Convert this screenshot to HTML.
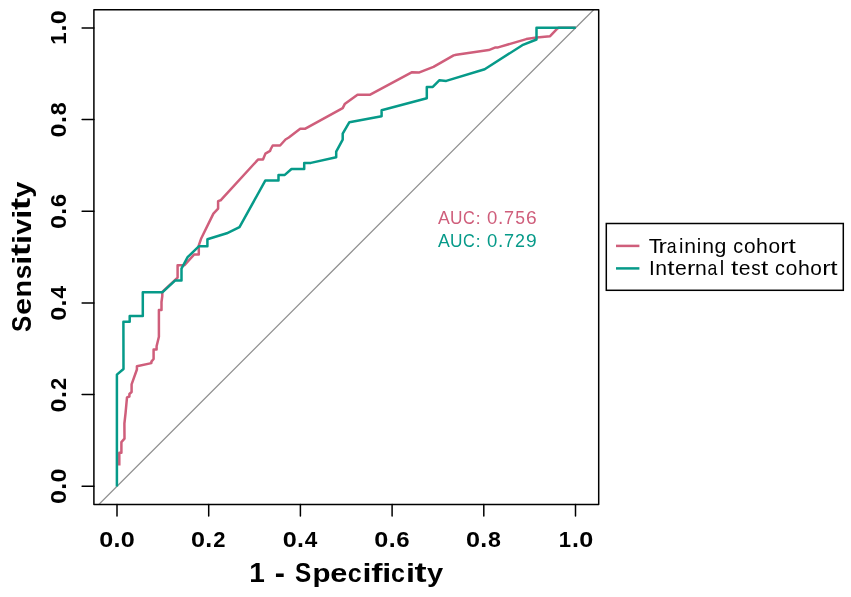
<!DOCTYPE html>
<html><head><meta charset="utf-8"><style>
html,body{margin:0;padding:0;background:#fff;overflow:hidden}
svg{display:block;will-change:transform}
text{font-family:"Liberation Sans",sans-serif}
</style></head><body>
<svg width="851" height="597" viewBox="0 0 851 597">
<rect x="0" y="0" width="851" height="597" fill="#fff"/>
<defs><clipPath id="c"><rect x="93.9" y="9.7" width="504.80" height="494.70"/></clipPath></defs>
<line x1="25.30" y1="577.97" x2="667.20" y2="-63.72" stroke="#909090" stroke-width="1.3" clip-path="url(#c)"/>
<polyline points="119.3,465.5 119.3,452.8 121.4,452.8 121.4,442.1 124.5,438.7 124.4,423.5 125.6,412.6 127.0,397.4 129.4,396.5 129.4,394.0 131.6,392.0 131.6,384.3 136.9,369.5 136.9,366.2 151.4,363.1 151.4,361.6 153.6,359.0 153.6,349.6 156.6,349.6 156.6,346.2 158.9,336.8 158.9,310.1 161.5,310.1 161.5,302.0 162.3,296.0 162.3,292.0 177.6,277.6 177.6,265.2 184.5,265.2 194.0,254.6 198.8,254.6 198.8,245.3 201.3,238.2 213.4,213.6 218.1,208.6 218.1,201.1 220.6,200.3 258.0,159.6 263.0,159.5 265.4,153.6 270.1,150.9 270.8,149.0 272.7,145.5 280.1,145.5 285.5,139.5 288.8,137.5 300.2,128.8 304.9,128.8 342.7,108.1 344.7,104.1 357.5,94.7 370.2,94.7 412.1,72.2 419.4,72.4 433.5,66.8 453.6,55.4 456.3,54.7 488.8,50.1 495.5,47.4 498.1,47.4 526.3,39.1 536.7,37.6 550.1,36.2 556.8,29.1 558.5,27.7 575.8,27.7" fill="none" stroke="#CF5E7B" stroke-width="2.5" stroke-linejoin="round" stroke-linecap="butt"/>
<polyline points="116.9,486.6 116.9,374.6 123.5,369.0 123.4,321.8 129.7,321.8 129.7,315.9 142.8,315.9 142.8,292.2 162.6,292.2 175.0,280.6 181.5,280.6 181.5,268.6 187.6,257.2 198.8,246.3 207.4,246.3 207.4,239.2 226.8,233.3 239.5,227.2 265.4,180.4 278.5,180.4 278.5,174.9 284.8,174.9 291.5,169.0 304.2,169.0 304.2,162.9 310.9,162.9 336.2,157.3 336.2,151.6 342.7,139.6 342.7,133.6 349.4,122.2 381.6,116.2 381.6,110.2 426.8,98.3 426.8,86.9 432.8,86.9 439.5,80.2 446.2,80.9 484.7,69.3 522.3,45.2 536.5,39.5 536.5,27.7 575.8,27.7" fill="none" stroke="#069A89" stroke-width="2.5" stroke-linejoin="round" stroke-linecap="butt"/>
<rect x="93.9" y="9.7" width="504.80" height="494.70" fill="none" stroke="#000" stroke-width="1.5" stroke-linejoin="round"/>
<line x1="117.0" y1="504.4" x2="117.0" y2="516.1" stroke="#000" stroke-width="1.5" stroke-linecap="round"/>
<line x1="82.1" y1="486.3" x2="93.9" y2="486.3" stroke="#000" stroke-width="1.5" stroke-linecap="round"/>
<line x1="208.7" y1="504.4" x2="208.7" y2="516.1" stroke="#000" stroke-width="1.5" stroke-linecap="round"/>
<line x1="82.1" y1="394.6" x2="93.9" y2="394.6" stroke="#000" stroke-width="1.5" stroke-linecap="round"/>
<line x1="300.4" y1="504.4" x2="300.4" y2="516.1" stroke="#000" stroke-width="1.5" stroke-linecap="round"/>
<line x1="82.1" y1="303.0" x2="93.9" y2="303.0" stroke="#000" stroke-width="1.5" stroke-linecap="round"/>
<line x1="392.1" y1="504.4" x2="392.1" y2="516.1" stroke="#000" stroke-width="1.5" stroke-linecap="round"/>
<line x1="82.1" y1="211.3" x2="93.9" y2="211.3" stroke="#000" stroke-width="1.5" stroke-linecap="round"/>
<line x1="483.8" y1="504.4" x2="483.8" y2="516.1" stroke="#000" stroke-width="1.5" stroke-linecap="round"/>
<line x1="82.1" y1="119.6" x2="93.9" y2="119.6" stroke="#000" stroke-width="1.5" stroke-linecap="round"/>
<line x1="575.5" y1="504.4" x2="575.5" y2="516.1" stroke="#000" stroke-width="1.5" stroke-linecap="round"/>
<line x1="82.1" y1="27.9" x2="93.9" y2="27.9" stroke="#000" stroke-width="1.5" stroke-linecap="round"/>
<g font-size="21.19" font-weight="bold">
<text transform="translate(99.24,547.07) scale(1.1908,1.0082)">0</text>
<text transform="translate(113.55,547.00) scale(1.1756,1.1975)">.</text>
<text transform="translate(120.76,547.07) scale(1.1908,1.0082)">0</text>
</g>
<g transform="translate(65.85,0) rotate(-90)" font-size="21.19" font-weight="bold">
<text transform="translate(-504.06,0.07) scale(1.1908,1.0082)">0</text>
<text transform="translate(-489.75,0.00) scale(1.1756,1.1975)">.</text>
<text transform="translate(-482.54,0.07) scale(1.1908,1.0082)">0</text>
</g>
<g font-size="21.19" font-weight="bold">
<text transform="translate(190.94,547.07) scale(1.1908,1.0082)">0</text>
<text transform="translate(205.25,547.00) scale(1.1756,1.1975)">.</text>
<text transform="translate(213.32,547.00) scale(1.0385,1.0032)">2</text>
</g>
<g transform="translate(65.85,0) rotate(-90)" font-size="21.19" font-weight="bold">
<text transform="translate(-412.39,0.07) scale(1.1908,1.0082)">0</text>
<text transform="translate(-398.08,0.00) scale(1.1756,1.1975)">.</text>
<text transform="translate(-390.01,0.00) scale(1.0385,1.0032)">2</text>
</g>
<g font-size="21.19" font-weight="bold">
<text transform="translate(282.64,547.07) scale(1.1908,1.0082)">0</text>
<text transform="translate(296.95,547.00) scale(1.1756,1.1975)">.</text>
<text transform="translate(304.76,547.00) scale(1.0659,1.0000)">4</text>
</g>
<g transform="translate(65.85,0) rotate(-90)" font-size="21.19" font-weight="bold">
<text transform="translate(-320.72,0.07) scale(1.1908,1.0082)">0</text>
<text transform="translate(-306.41,0.00) scale(1.1756,1.1975)">.</text>
<text transform="translate(-298.60,0.00) scale(1.0659,1.0000)">4</text>
</g>
<g font-size="21.19" font-weight="bold">
<text transform="translate(374.34,547.07) scale(1.1908,1.0082)">0</text>
<text transform="translate(388.65,547.00) scale(1.1756,1.1975)">.</text>
<text transform="translate(396.26,547.07) scale(1.1325,1.0069)">6</text>
</g>
<g transform="translate(65.85,0) rotate(-90)" font-size="21.19" font-weight="bold">
<text transform="translate(-229.05,0.07) scale(1.1908,1.0082)">0</text>
<text transform="translate(-214.74,0.00) scale(1.1756,1.1975)">.</text>
<text transform="translate(-207.13,0.07) scale(1.1325,1.0069)">6</text>
</g>
<g font-size="21.19" font-weight="bold">
<text transform="translate(466.04,547.07) scale(1.1908,1.0082)">0</text>
<text transform="translate(480.35,547.00) scale(1.1756,1.1975)">.</text>
<text transform="translate(488.08,547.07) scale(1.0950,1.0082)">8</text>
</g>
<g transform="translate(65.85,0) rotate(-90)" font-size="21.19" font-weight="bold">
<text transform="translate(-137.38,0.07) scale(1.1908,1.0082)">0</text>
<text transform="translate(-123.07,0.00) scale(1.1756,1.1975)">.</text>
<text transform="translate(-115.34,0.07) scale(1.0950,1.0082)">8</text>
</g>
<g font-size="21.19" font-weight="bold">
<text transform="translate(558.65,547.00) scale(1.0428,1.0000)">1</text>
<text transform="translate(572.05,547.00) scale(1.1756,1.1975)">.</text>
<text transform="translate(579.26,547.07) scale(1.1908,1.0082)">0</text>
</g>
<g transform="translate(65.85,0) rotate(-90)" font-size="21.19" font-weight="bold">
<text transform="translate(-44.80,0.00) scale(1.0428,1.0000)">1</text>
<text transform="translate(-31.40,0.00) scale(1.1756,1.1975)">.</text>
<text transform="translate(-24.19,0.07) scale(1.1908,1.0082)">0</text>
</g>
<g font-size="26.86" font-weight="bold">
<text transform="translate(249.24,582.30) scale(1.0428,1.0000)">1</text>
<text transform="translate(274.78,582.84) scale(1.1398,1.1255)">-</text>
<text transform="translate(295.07,582.39) scale(0.9061,1.0082)">S</text>
<text transform="translate(312.39,582.16) scale(1.0992,0.9703)">p</text>
<text transform="translate(330.24,582.40) scale(1.1470,0.9892)">e</text>
<text transform="translate(347.66,582.40) scale(0.9343,0.9892)">c</text>
<text transform="translate(362.45,582.30) scale(1.2024,0.9895)">i</text>
<text transform="translate(371.17,582.30) scale(1.2612,0.9895)">f</text>
<text transform="translate(382.17,582.30) scale(1.2024,0.9895)">i</text>
<text transform="translate(391.09,582.40) scale(0.9343,0.9892)">c</text>
<text transform="translate(405.88,582.30) scale(1.2024,0.9895)">i</text>
<text transform="translate(414.59,582.06) scale(1.3514,1.0023)">t</text>
<text transform="translate(426.90,582.32) scale(1.0804,0.9782)">y</text>
</g>
<g transform="translate(30.60,0) rotate(-90)" font-size="26.86" font-weight="bold">
<text transform="translate(-332.10,0.09) scale(0.9061,1.0082)">S</text>
<text transform="translate(-315.08,0.10) scale(1.1470,0.9892)">e</text>
<text transform="translate(-297.54,0.00) scale(1.0745,0.9814)">n</text>
<text transform="translate(-279.33,0.10) scale(0.9754,0.9883)">s</text>
<text transform="translate(-264.76,0.00) scale(1.2024,0.9895)">i</text>
<text transform="translate(-256.05,-0.24) scale(1.3514,1.0023)">t</text>
<text transform="translate(-243.95,0.00) scale(1.2024,0.9895)">i</text>
<text transform="translate(-234.87,0.00) scale(1.0716,0.9769)">v</text>
<text transform="translate(-218.74,0.00) scale(1.2024,0.9895)">i</text>
<text transform="translate(-210.03,-0.24) scale(1.3514,1.0023)">t</text>
<text transform="translate(-197.72,0.02) scale(1.0804,0.9782)">y</text>
</g>
<g font-size="18.65" fill="#CF5E7B">
<text transform="translate(437.97,223.70) scale(0.9507,1.0000)">A</text>
<text transform="translate(450.10,223.77) scale(0.9275,1.0052)">U</text>
<text transform="translate(462.94,223.77) scale(0.8761,1.0082)">C</text>
<text transform="translate(475.40,223.70) scale(1.0212,0.9237)">:</text>
<text transform="translate(487.03,223.77) scale(0.9949,1.0082)">0</text>
<text transform="translate(497.94,223.70) scale(1.0212,1.0946)">.</text>
<text transform="translate(503.90,223.70) scale(0.9732,1.0000)">7</text>
<text transform="translate(515.24,223.77) scale(0.9389,1.0052)">5</text>
<text transform="translate(526.04,223.77) scale(1.0296,1.0082)">6</text>
</g>
<g font-size="18.65" fill="#069A89">
<text transform="translate(437.97,246.60) scale(0.9507,1.0000)">A</text>
<text transform="translate(450.10,246.67) scale(0.9275,1.0052)">U</text>
<text transform="translate(462.94,246.67) scale(0.8761,1.0082)">C</text>
<text transform="translate(475.40,246.60) scale(1.0212,0.9237)">:</text>
<text transform="translate(487.03,246.67) scale(0.9949,1.0082)">0</text>
<text transform="translate(497.94,246.60) scale(1.0212,1.0946)">.</text>
<text transform="translate(503.90,246.60) scale(0.9732,1.0000)">7</text>
<text transform="translate(514.98,246.60) scale(0.9589,1.0032)">2</text>
<text transform="translate(526.00,246.67) scale(1.0276,1.0082)">9</text>
</g>
<rect x="606.3" y="223.5" width="237.00" height="66.80" fill="#fff" stroke="#000" stroke-width="1.5"/>
<line x1="616" y1="245.9" x2="639.4" y2="245.9" stroke="#CF5E7B" stroke-width="2.5"/>
<line x1="616" y1="268.4" x2="639.4" y2="268.4" stroke="#069A89" stroke-width="2.5"/>
<g font-size="20.80">
<text transform="translate(648.72,252.70) scale(1.0293,1.0000)">T</text>
<text transform="translate(658.48,252.70) scale(1.2092,0.9823)">r</text>
<text transform="translate(666.86,252.78) scale(0.8487,0.9892)">a</text>
<text transform="translate(678.97,252.70) scale(0.9647,0.9895)">i</text>
<text transform="translate(684.29,252.70) scale(1.0175,0.9823)">n</text>
<text transform="translate(696.87,252.70) scale(0.9647,0.9895)">i</text>
<text transform="translate(702.19,252.70) scale(1.0175,0.9823)">n</text>
<text transform="translate(714.44,252.58) scale(1.0257,0.9741)">g</text>
<text transform="translate(733.20,252.78) scale(0.9470,0.9892)">c</text>
<text transform="translate(743.95,252.78) scale(1.0033,0.9892)">o</text>
<text transform="translate(756.06,252.70) scale(1.0246,0.9895)">h</text>
<text transform="translate(768.40,252.78) scale(1.0033,0.9892)">o</text>
<text transform="translate(780.32,252.70) scale(1.2092,0.9823)">r</text>
<text transform="translate(788.41,252.54) scale(1.2614,1.0128)">t</text>
</g>
<g font-size="20.80">
<text transform="translate(648.98,275.40) scale(0.9981,1.0000)">I</text>
<text transform="translate(655.14,275.40) scale(1.0175,0.9823)">n</text>
<text transform="translate(667.33,275.24) scale(1.2614,1.0128)">t</text>
<text transform="translate(675.08,275.48) scale(1.0194,0.9892)">e</text>
<text transform="translate(687.09,275.40) scale(1.2092,0.9823)">r</text>
<text transform="translate(695.08,275.40) scale(1.0175,0.9823)">n</text>
<text transform="translate(707.57,275.48) scale(0.8487,0.9892)">a</text>
<text transform="translate(719.67,275.40) scale(0.9647,0.9895)">l</text>
<text transform="translate(731.00,275.24) scale(1.2614,1.0128)">t</text>
<text transform="translate(738.75,275.48) scale(1.0194,0.9892)">e</text>
<text transform="translate(751.18,275.48) scale(0.9047,0.9918)">s</text>
<text transform="translate(761.00,275.24) scale(1.2614,1.0128)">t</text>
<text transform="translate(775.05,275.48) scale(0.9470,0.9892)">c</text>
<text transform="translate(785.80,275.48) scale(1.0033,0.9892)">o</text>
<text transform="translate(797.91,275.40) scale(1.0246,0.9895)">h</text>
<text transform="translate(810.26,275.48) scale(1.0033,0.9892)">o</text>
<text transform="translate(822.17,275.40) scale(1.2092,0.9823)">r</text>
<text transform="translate(830.26,275.24) scale(1.2614,1.0128)">t</text>
</g>
</svg>
</body></html>
